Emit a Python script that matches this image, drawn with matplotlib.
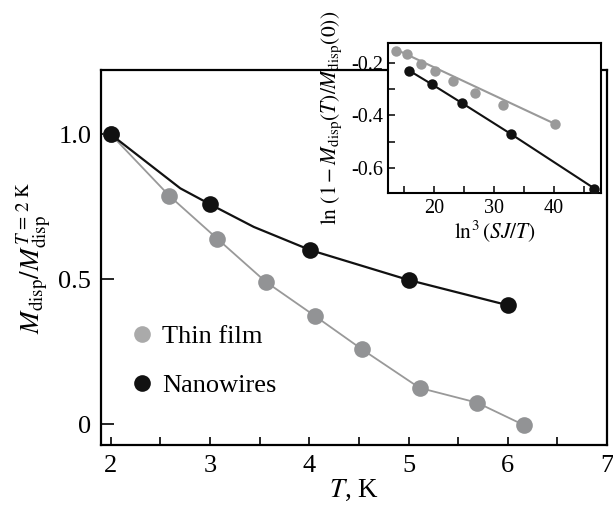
import matplotlib
matplotlib.use("Agg")
from matplotlib import pyplot as plt
from matplotlib.lines import Line2D
import matplotlib.ticker as ticker

plt.rcParams['font.family'] = ['Liberation Serif', 'DejaVu Serif']
plt.rcParams['mathtext.fontset'] = 'stix'
plt.rcParams['axes.unicode_minus'] = True

# main panel: normalised magnetisation vs temperature
film_T = [2.0, 2.59, 3.07, 3.56, 4.06, 4.53, 5.11, 5.69, 6.16]
film_M = [1.0, 0.788, 0.641, 0.492, 0.373, 0.259, 0.126, 0.075, -0.002]

wire_T = [2.0, 3.0, 4.01, 5.0, 6.0]
wire_M = [1.0, 0.759, 0.601, 0.498, 0.411]

# guide line through nanowire points (vertices)
wire_fit_T = [2.0, 2.70, 3.0, 3.44, 4.01, 5.0, 6.0]
wire_fit_M = [1.0, 0.814, 0.759, 0.681, 0.601, 0.498, 0.411]

# inset: ln(1 - M(T)/M(0)) vs ln^3(SJ/T)
ins_film_x = [13.6, 15.4, 17.7, 20.1, 23.2, 26.8, 31.5, 40.2]
ins_film_y = [-0.155, -0.167, -0.203, -0.233, -0.269, -0.316, -0.362, -0.432]
ins_film_fit_x = [13.6, 40.2]
ins_film_fit_y = [-0.150, -0.432]

ins_wire_x = [15.8, 19.6, 24.7, 32.8, 46.8]
ins_wire_y = [-0.230, -0.282, -0.354, -0.470, -0.677]

gray = '#999999'
gray_mk = '#929395'
black = '#111111'

fig = plt.figure(figsize=(6.13, 5.08), dpi=100)
ax = fig.add_axes([0.1646, 0.124, 0.8258, 0.7382])

ax.plot(film_T, film_M, color=gray, lw=1.3, zorder=2)
ax.plot(film_T, film_M, 'o', color=gray_mk, ms=12, mec='none', zorder=3)
ax.plot(wire_fit_T, wire_fit_M, color=black, lw=1.6, zorder=4)
ax.plot(wire_T, wire_M, 'o', color=black, ms=12, mec='none', zorder=5)

ax.set_xlim(1.9, 7.0)
ax.set_ylim(-0.071, 1.222)
ax.xaxis.set_major_locator(ticker.MultipleLocator(1))
ax.xaxis.set_minor_locator(ticker.MultipleLocator(0.5))
ax.yaxis.set_major_locator(ticker.FixedLocator([0, 0.5, 1.0]))
ax.yaxis.set_major_formatter(ticker.FixedFormatter(['0', '0.5', '1.0']))
ax.tick_params(which='both', direction='in', labelsize=19, width=1.2,
               top=False, right=False)
ax.tick_params(axis='x', which='both', length=6, pad=7)
ax.tick_params(axis='y', which='major', length=9, pad=7)
for s in ax.spines.values():
    s.set_linewidth(1.6)

ax.set_xlabel(r'$T$, K', fontsize=19.5, labelpad=1)
ax.set_ylabel(r'$M_{\rm disp}/M_{\rm disp}^{T\,=\,2\ {\rm K}}$', fontsize=19.5,
              labelpad=4)

handles = [Line2D([], [], ls='none', marker='o', ms=12, color='#aaaaaa', mec='none'),
           Line2D([], [], ls='none', marker='o', ms=12, color=black, mec='none')]
ax.legend(handles, ['Thin film', 'Nanowires'], frameon=False, fontsize=19,
          loc='lower left', bbox_to_anchor=(0.043, 0.10), handlelength=0.7,
          handletextpad=0.4, labelspacing=0.95, borderaxespad=0)

# inset
ins = fig.add_axes([0.6335, 0.6195, 0.347, 0.2965], zorder=10)
ins.set_facecolor('white')
ins.plot(ins_film_fit_x, ins_film_fit_y, color=gray, lw=1.5, zorder=2)
ins.plot(ins_film_x, ins_film_y, 'o', color='#9a9a9a', ms=7.5, mec='none', zorder=3)
ins.plot(ins_wire_x, ins_wire_y, '-o', color=black, lw=1.5, ms=7.5, mec='none', zorder=4)

ins.set_xlim(12.3, 47.9)
ins.set_ylim(-0.695, -0.124)
ins.xaxis.set_major_locator(ticker.MultipleLocator(10))
ins.xaxis.set_minor_locator(ticker.MultipleLocator(5))
ins.yaxis.set_major_locator(ticker.MultipleLocator(0.2))
ins.yaxis.set_minor_locator(ticker.MultipleLocator(0.1))
ins.yaxis.set_major_formatter(ticker.FormatStrFormatter('%.1f'))
ins.tick_params(which='both', direction='in', labelsize=14.5, width=1.1,
                length=5, pad=4, top=False, right=False)
for s in ins.spines.values():
    s.set_linewidth(1.5)
ins.set_xlabel(r'$\ln^3(SJ/T)$', fontsize=15.5, labelpad=0)
ins.set_ylabel(r'$\ln\,(1-M_{\rm disp}(T)/M_{\rm disp}(0))$', fontsize=15.5,
               labelpad=5)

fig.savefig('out.png', dpi=100)
